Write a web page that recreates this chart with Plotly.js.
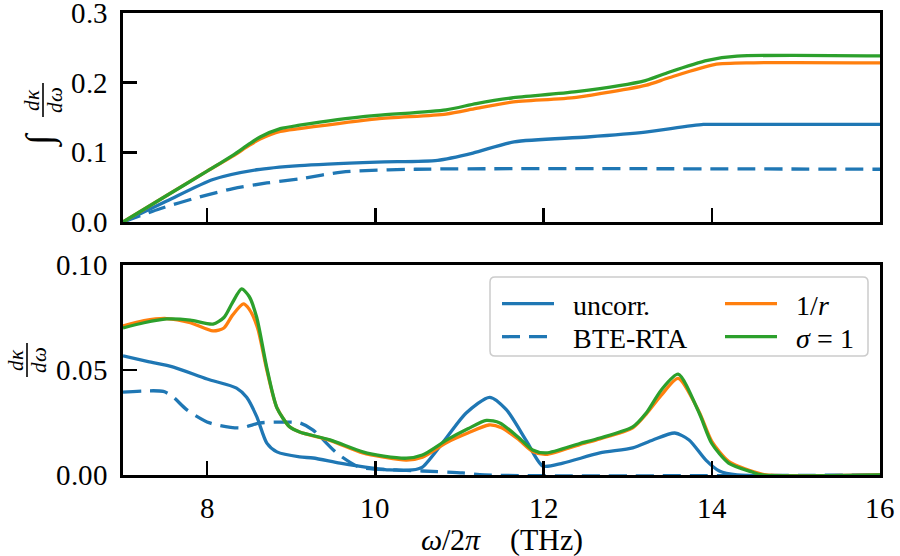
<!DOCTYPE html>
<html>
<head>
<meta charset="utf-8">
<script src="https://cdn.plot.ly/plotly-3.0.1.min.js"></script>
<style>
@font-face{font-family:'CMLike';font-style:normal;font-weight:400;
  src:local('Liberation Serif'),local('LiberationSerif'),local('LiberationSerif-Regular'),local('Times New Roman'),local('DejaVu Serif'),local('DejaVuSerif');}
@font-face{font-family:'CMLike';font-style:italic;font-weight:400;
  src:local('Liberation Serif Italic'),local('LiberationSerif-Italic'),local('Times New Roman Italic'),local('DejaVu Serif Italic'),local('DejaVuSerif-Italic');}
html,body{margin:0;padding:0;background:#fff;}
</style>
</head>
<body>
<div id="chart" style="width:900px;height:556px;"></div>
<script>
// ---------- data ----------
// Top panel: cumulative integral of dκ/dω
const cumUncorrX = [7.0, 7.52, 8.07, 8.59, 9.1, 10.02, 10.74, 11.16, 11.65, 12.52, 13.21, 13.9, 14.2, 16.0];
const cumUncorrY = [0, 0.030, 0.061, 0.075, 0.081, 0.086, 0.0886, 0.099, 0.115, 0.122, 0.129, 0.140, 0.140, 0.140];

const cumBteX = [7.0, 7.44, 7.91, 8.31, 8.71, 9.1, 9.6, 10.47, 16.0];
const cumBteY = [0, 0.019, 0.036, 0.048, 0.056, 0.062, 0.0716, 0.0757, 0.0757];

const cumInvRX = [7.0, 7.52, 8.0, 8.31, 8.5, 8.63, 8.87, 9.1, 10.02, 10.84, 11.2, 11.62, 12.39, 13.21, 13.49, 14.03, 14.5, 16.0];
const cumInvRY = [0, 0.038, 0.073, 0.095, 0.110, 0.119, 0.130, 0.134, 0.148, 0.155, 0.163, 0.172, 0.179, 0.196, 0.207, 0.226, 0.2285, 0.2285];

const cumSigmaX = [7.0, 7.52, 8.0, 8.31, 8.5, 8.63, 8.87, 9.1, 9.55, 10.02, 10.84, 11.2, 11.62, 12.39, 13.21, 13.49, 13.95, 14.3, 16.0];
const cumSigmaY = [0, 0.038, 0.073, 0.096, 0.112, 0.122, 0.134, 0.139, 0.147, 0.153, 0.161, 0.170, 0.178, 0.187, 0.203, 0.215, 0.232, 0.238, 0.2385];

// Bottom panel: spectral dκ/dω
const specUncorrX = [7.0, 7.3, 7.6, 8.0, 8.35, 8.47, 8.59, 8.71, 8.83, 9.1, 9.26, 9.58, 9.97, 10.17, 10.44, 10.56, 10.85, 11.08, 11.36, 11.56, 11.8, 11.99, 12.23, 12.67, 13.06, 13.3, 13.56, 13.73, 13.93, 14.09, 14.3, 16.0];
const specUncorrY = [0.0567, 0.054, 0.0514, 0.0457, 0.0414, 0.037, 0.0278, 0.0152, 0.011, 0.0086, 0.0081, 0.0057, 0.0033, 0.0024, 0.0024, 0.0038, 0.018, 0.0295, 0.037, 0.031, 0.016, 0.0043, 0.0057, 0.0105, 0.0129, 0.0167, 0.020, 0.0167, 0.0071, 0.0019, 0, 0];

const specBteX = [7.0, 7.48, 7.6, 7.76, 8.03, 8.39, 8.63, 8.86, 9.1, 9.26, 9.54, 9.81, 10.25, 10.56, 11.04, 11.3, 16.0];
const specBteY = [0.0395, 0.0398, 0.037, 0.031, 0.0248, 0.0224, 0.0248, 0.0252, 0.0248, 0.0214, 0.0105, 0.0038, 0.0024, 0.0019, 0.001, 0, 0];

const specInvRX = [7.0, 7.25, 7.52, 7.8, 8.07, 8.2, 8.3, 8.43, 8.5, 8.6, 8.71, 8.83, 8.98, 9.1, 9.46, 9.85, 10.1, 10.37, 10.56, 10.85, 11.1, 11.35, 11.5, 11.7, 11.87, 12.03, 12.43, 12.67, 13.06, 13.22, 13.4, 13.6, 13.85, 14.0, 14.2, 14.5, 14.65, 16.0];
const specInvRY = [0.071, 0.0735, 0.0745, 0.0725, 0.0686, 0.070, 0.076, 0.0815, 0.079, 0.070, 0.050, 0.032, 0.023, 0.0205, 0.0165, 0.0105, 0.0085, 0.0071, 0.0085, 0.0155, 0.020, 0.0238, 0.0225, 0.017, 0.0112, 0.0098, 0.0145, 0.0172, 0.0225, 0.029, 0.038, 0.046, 0.030, 0.016, 0.0065, 0.0015, 0, 0];

const specSigmaX = [7.0, 7.25, 7.52, 7.8, 8.07, 8.2, 8.3, 8.41, 8.5, 8.59, 8.71, 8.83, 8.98, 9.1, 9.46, 9.85, 10.1, 10.37, 10.56, 10.85, 11.1, 11.32, 11.48, 11.7, 11.87, 12.03, 12.43, 12.67, 13.06, 13.22, 13.4, 13.6, 13.85, 14.0, 14.2, 14.48, 14.6, 16.0];
const specSigmaY = [0.070, 0.0725, 0.0743, 0.0738, 0.0719, 0.075, 0.082, 0.0886, 0.085, 0.075, 0.051, 0.032, 0.023, 0.0205, 0.0167, 0.011, 0.009, 0.008, 0.0095, 0.0167, 0.022, 0.026, 0.0248, 0.018, 0.0119, 0.0105, 0.015, 0.0176, 0.0229, 0.0295, 0.0405, 0.048, 0.0295, 0.015, 0.0057, 0.0014, 0, 0];

const legendNames = ['uncorr.', 'BTE-RTA', '1/<i>r</i>', '<i>σ</i> = 1'];
const xTicks = [8, 10, 12, 14, 16];
const topTicks = [0.0, 0.1, 0.2, 0.3];
const botTicks = [0.00, 0.05, 0.10];

// ---------- styling ----------
const BLUE = '#1f77b4', ORANGE = '#ff7f0e', GREEN = '#2ca02c';
const FONT = 'CMLike, Liberation Serif, Times New Roman, serif';
const LW = 3.3;
const W = 900, H = 556, ML = 123, MR = 20, MT = 13, MB = 81;
const PW = W - ML - MR, PH = H - MT - MB;
const px = v => (v - ML) / PW;
const py = v => (H - MB - v) / PH;

function tr(x, y, color, dash, xa, ya, name, show, leg) {
  return {
    x: x, y: y, type: 'scatter', mode: 'lines', xaxis: xa, yaxis: ya,
    name: name, showlegend: show, legend: leg,
    line: {color: color, width: LW, dash: dash, shape: 'spline', smoothing: 0.7},
    hoverinfo: 'skip'
  };
}

const SP = '\u2002';
const data = [
  tr(cumUncorrX, cumUncorrY, BLUE, 'solid', 'x', 'y', legendNames[0], false),
  tr(cumBteX, cumBteY, BLUE, '18px,9px', 'x', 'y', legendNames[1], false),
  tr(cumInvRX, cumInvRY, ORANGE, 'solid', 'x', 'y', legendNames[2], false),
  tr(cumSigmaX, cumSigmaY, GREEN, 'solid', 'x', 'y', legendNames[3], false),
  tr(specUncorrX, specUncorrY, BLUE, 'solid', 'x2', 'y2', SP + legendNames[0], true, 'legend'),
  tr(specBteX, specBteY, BLUE, '18px,9px', 'x2', 'y2', SP + legendNames[1], true, 'legend2'),
  tr(specInvRX, specInvRY, ORANGE, 'solid', 'x2', 'y2', SP + legendNames[2], true, 'legend3'),
  tr(specSigmaX, specSigmaY, GREEN, 'solid', 'x2', 'y2', SP + legendNames[3], true, 'legend4')
];

const axBase = {
  showgrid: false, zeroline: false, showline: true, mirror: true,
  linecolor: '#000', linewidth: 2.8,
  ticks: 'inside', ticklen: 14, tickwidth: 2.5, tickcolor: '#000',
  ticklabeloverflow: 'allow',
  tickfont: {family: FONT, size: 29, color: '#000'}
};

const legBase = {
  orientation: 'v', xanchor: 'left', yanchor: 'top',
  bgcolor: 'rgba(0,0,0,0)', borderwidth: 0,
  font: {family: FONT, size: 28, color: '#000'},
  itemwidth: 52, tracegroupgap: 0
};

// rounded legend frame (paper coordinates)
const bx0 = px(490), bx1 = px(868), by0 = py(356), by1 = py(277);
const rx = 5 / PW, ry = 5 / PH;
const framePath = `M ${bx0 + rx},${by1} L ${bx1 - rx},${by1} Q ${bx1},${by1} ${bx1},${by1 - ry} ` +
  `L ${bx1},${by0 + ry} Q ${bx1},${by0} ${bx1 - rx},${by0} L ${bx0 + rx},${by0} ` +
  `Q ${bx0},${by0} ${bx0},${by0 + ry} L ${bx0},${by1 - ry} Q ${bx0},${by1} ${bx0 + rx},${by1} Z`;

const annFont = {family: FONT, size: 21, color: '#000'};
const layout = {
  width: W, height: H,
  font: {family: FONT, color: '#000'},
  margin: {l: ML, r: MR, t: MT, b: MB, pad: 0},
  paper_bgcolor: '#fff', plot_bgcolor: '#fff',
  showlegend: true,
  xaxis: Object.assign({}, axBase, {domain: [0, 1], anchor: 'y', range: [7, 16], tickvals: xTicks, showticklabels: false}),
  yaxis: Object.assign({}, axBase, {domain: [py(222), 1], anchor: 'x', range: [0, 0.3], tickvals: topTicks, tickformat: '.1f', ticklabelstandoff: 6}),
  xaxis2: Object.assign({}, axBase, {domain: [0, 1], anchor: 'y2', range: [7, 16], tickvals: xTicks, ticklabelstandoff: 5,
    title: {text: '<i>ω</i>/2<i>π</i>\u2002\u2002(THz)', font: {family: FONT, size: 30, color: '#000'}, standoff: 2}}),
  yaxis2: Object.assign({}, axBase, {domain: [0, py(265)], anchor: 'x2', range: [0, 0.1], tickvals: botTicks, tickformat: '.2f', ticklabelstandoff: 6}),
  legend: Object.assign({}, legBase, {x: px(497), y: py(279)}),
  legend2: Object.assign({}, legBase, {x: px(497), y: py(312)}),
  legend3: Object.assign({}, legBase, {x: px(720), y: py(279)}),
  legend4: Object.assign({}, legBase, {x: px(720), y: py(312)}),
  shapes: [
    {type: 'path', xref: 'paper', yref: 'paper', path: framePath, layer: 'above',
     fillcolor: 'rgba(255,255,255,0.8)', line: {color: '#cccccc', width: 1.5}},
    {type: 'line', xref: 'paper', yref: 'paper', x0: px(27), x1: px(27), y0: py(377), y1: py(343), line: {color: '#000', width: 1.6}},
    {type: 'line', xref: 'paper', yref: 'paper', x0: px(43), x1: px(43), y0: py(117), y1: py(83), line: {color: '#000', width: 1.6}}
  ],
  annotations: [
    {xref: 'paper', yref: 'paper', x: px(16), y: py(360), text: '<i>dκ</i>', textangle: -90, showarrow: false, xanchor: 'center', yanchor: 'middle', font: annFont},
    {xref: 'paper', yref: 'paper', x: px(39), y: py(360), text: '<i>dω</i>', textangle: -90, showarrow: false, xanchor: 'center', yanchor: 'middle', font: annFont},
    {xref: 'paper', yref: 'paper', x: px(32), y: py(100), text: '<i>dκ</i>', textangle: -90, showarrow: false, xanchor: 'center', yanchor: 'middle', font: annFont},
    {xref: 'paper', yref: 'paper', x: px(55), y: py(100), text: '<i>dω</i>', textangle: -90, showarrow: false, xanchor: 'center', yanchor: 'middle', font: annFont},
    {xref: 'paper', yref: 'paper', x: px(40), y: py(140), text: '∫', textangle: -90, showarrow: false, xanchor: 'center', yanchor: 'middle', font: {family: FONT, size: 38, color: '#000'}}
  ]
};

function draw() {
  Plotly.newPlot('chart', data, layout, {displayModeBar: false, staticPlot: true});
}
if (document.fonts && document.fonts.load) {
  Promise.all([
    document.fonts.load('29px CMLike'),
    document.fonts.load('italic 29px CMLike')
  ]).then(draw, draw);
} else {
  draw();
}
</script>
</body>
</html>
